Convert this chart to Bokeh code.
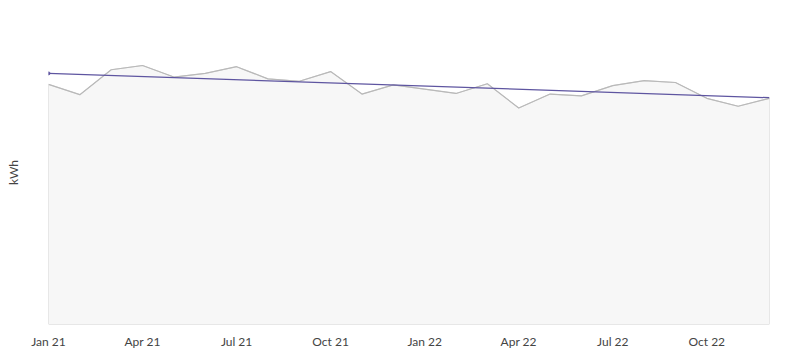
from bokeh.plotting import figure
from bokeh.models import FixedTicker, Range1d
from bokeh.embed import file_html
from bokeh.resources import INLINE

months = ["Jan 21", "Feb 21", "Mar 21", "Apr 21", "May 21", "Jun 21", "Jul 21", "Aug 21",
          "Sep 21", "Oct 21", "Nov 21", "Dec 21", "Jan 22", "Feb 22", "Mar 22", "Apr 22",
          "May 22", "Jun 22", "Jul 22", "Aug 22", "Sep 22", "Oct 22", "Nov 22", "Dec 22"]
usage_kwh = [395, 378, 419, 426, 407, 413, 424, 404, 400, 416, 379, 394,
             387, 380, 396, 356, 379, 376, 393, 401, 398, 372, 359, 372]
trend_start_end = [413, 373]
tick_months = ["Jan 21", "Apr 21", "Jul 21", "Oct 21", "Jan 22", "Apr 22", "Jul 22", "Oct 22"]

xs = list(range(len(months)))

p = figure(width=797, height=354, output_backend="svg", toolbar_location=None,
           x_range=Range1d(0, len(months) - 1), y_range=Range1d(0, 500),
           min_border_left=48, min_border_right=28, min_border_top=20, min_border_bottom=30)
p.outline_line_color = None
p.grid.visible = False
p.background_fill_color = "white"

# area polygon
px = [xs[0]] + xs + [xs[-1]]
py = [0] + usage_kwh + [0]
p.patch(px, py, fill_color="#f7f7f7", line_color="#d2d2d2", line_width=1)
p.line(xs, usage_kwh, line_color="#b9b9b9", line_width=1.2)

# trend line
p.line([xs[0], xs[-1]], trend_start_end, line_color="#5e55a0", line_width=1.3)
p.scatter([xs[0]], [trend_start_end[0]], size=3, color="#5e55a0")

label_font = "Lato"
p.xaxis.ticker = FixedTicker(ticks=[months.index(m) for m in tick_months])
p.xaxis.major_label_overrides = {months.index(m): m for m in tick_months}
p.xaxis.axis_line_color = None
p.xaxis.major_tick_line_color = None
p.xaxis.minor_tick_line_color = None
p.xaxis.major_tick_out = 0
p.xaxis.major_label_standoff = 9
p.xaxis.major_label_text_font = label_font
p.xaxis.major_label_text_font_size = "12px"
p.xaxis.major_label_text_color = "#444444"

p.yaxis.ticker = FixedTicker(ticks=[])
p.yaxis.axis_line_color = None
p.yaxis.major_tick_line_color = None
p.yaxis.minor_tick_line_color = None
p.yaxis.axis_label = "kWh"
p.yaxis.axis_label_text_font = label_font
p.yaxis.axis_label_text_font_style = "normal"
p.yaxis.axis_label_text_font_size = "12px"
p.yaxis.axis_label_text_color = "#444444"
p.yaxis.axis_label_standoff = 28

open("out.html", "w").write(file_html(p, INLINE))
